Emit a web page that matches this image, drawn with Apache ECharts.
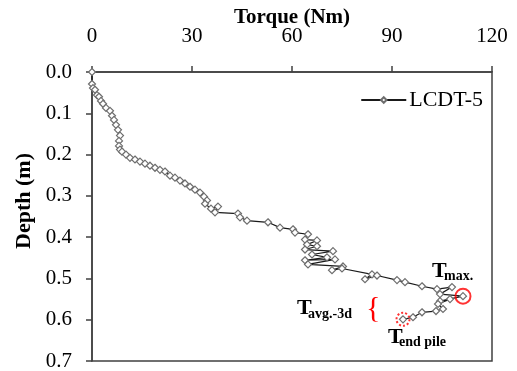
<!DOCTYPE html>
<html>
<head>
<meta charset="utf-8">
<script src="https://cdn.jsdelivr.net/npm/echarts@6/dist/echarts.min.js"></script>
<style>
  html, body { margin: 0; padding: 0; background: #fff; }
  #chart { width: 517px; height: 371px; }
</style>
</head>
<body>
<div id="chart"></div>
<script>
// torque readings (Nm) and matching depths (m), in measuring order
const torque = [
  0, 0, 0.3, 0.9, 1.5, 2.1, 2.7, 3.3, 4.2, 5.4, 6, 6.6, 7.2, 7.8, 8.4, 8.1, 8.1, 8.4, 9, 10.2,
  11.4, 12.9, 14.4, 15.9, 17.4, 18.9, 20.4, 21.9, 23.4, 24.9, 26.4, 27.9, 29.4, 30.9, 32.4, 33.6,
  34.5, 33.9, 35.7, 37.8, 36.9, 43.8, 44.4, 46.5, 52.8, 56.4, 60.3, 60.9, 64.8, 63.9, 67.5, 64.5,
  67.5, 63.9, 72.3, 66, 70.5, 63.9, 72.9, 64.8, 75.3, 72, 75, 84, 81.9, 85.5, 91.5, 93.9, 99,
  103.5, 108, 104.4, 111.3, 104.4, 107.4, 103.8, 105.3, 103.2, 99, 96.3, 93.3
]
const depth = [
  0, 0.029, 0.039, 0.043, 0.056, 0.06, 0.07, 0.077, 0.087, 0.094, 0.106, 0.116, 0.128, 0.14, 0.154,
  0.167, 0.179, 0.188, 0.193, 0.2, 0.208, 0.212, 0.217, 0.222, 0.227, 0.232, 0.237, 0.241, 0.251,
  0.256, 0.263, 0.27, 0.278, 0.285, 0.292, 0.302, 0.311, 0.319, 0.331, 0.326, 0.34, 0.343, 0.352,
  0.36, 0.364, 0.377, 0.381, 0.389, 0.393, 0.406, 0.408, 0.418, 0.422, 0.43, 0.434, 0.442, 0.449,
  0.456, 0.454, 0.466, 0.471, 0.48, 0.476, 0.49, 0.502, 0.493, 0.504, 0.509, 0.519, 0.526, 0.521,
  0.538, 0.543, 0.555, 0.55, 0.562, 0.574, 0.579, 0.582, 0.594, 0.599
]
const torqueTicks = [0, 30, 60, 90, 120]
const depthTicks = [0, 0.1, 0.2, 0.3, 0.4, 0.5, 0.6, 0.7]

// highlighted readings
const maxPoint = [111.3, 0.543]
const endPoint = [93.3, 0.599]

const serif = "Liberation Serif"
const chart = echarts.init(document.getElementById("chart"))

const option = {
  animation: false,
  grid: {
    left: 92,
    right: 25,
    top: 72,
    bottom: 10,
    outerBoundsMode: "none",
    show: true,
    borderColor: "#404040",
    borderWidth: 1.5,
  },
  legend: {
    right: 29,
    top: 84,
    itemWidth: 45,
    itemHeight: 7,
    itemGap: 4,
    data: ["LCDT-5"],
    textStyle: { fontFamily: serif, fontSize: 22, color: "#000", padding: [0, 0, 0, -2] },
  },
  xAxis: {
    type: "value",
    position: "top",
    min: torqueTicks[0],
    max: torqueTicks[torqueTicks.length - 1],
    interval: torqueTicks[1] - torqueTicks[0],
    name: "Torque (Nm)",
    nameLocation: "middle",
    nameGap: 44,
    nameMoveOverlap: false,
    nameTextStyle: { fontFamily: serif, fontSize: 21, fontWeight: "bold", color: "#000" },
    axisLine: { show: true, lineStyle: { color: "#404040", width: 1.5 } },
    axisTick: { show: true, inside: false, length: 6, lineStyle: { color: "#404040", width: 1.5 } },
    axisLabel: { fontFamily: serif, fontSize: 21, color: "#000", margin: 25 },
    splitLine: { show: false },
  },
  yAxis: {
    type: "value",
    inverse: true,
    min: depthTicks[0],
    max: depthTicks[depthTicks.length - 1],
    interval: 0.1,
    axisLine: { show: true, lineStyle: { color: "#404040", width: 1.5 } },
    axisTick: { show: true, inside: false, length: 6, lineStyle: { color: "#404040", width: 1.5 } },
    axisLabel: {
      fontFamily: serif,
      fontSize: 21,
      color: "#000",
      margin: 20,
      formatter: (v) => v.toFixed(1),
    },
    splitLine: { show: false },
  },
  series: [
    {
      name: "LCDT-5",
      type: "line",
      data: torque.map((t, i) => [t, depth[i]]),
      symbol: "diamond",
      symbolSize: 7,
      showAllSymbol: true,
      lineStyle: { color: "#1a1a1a", width: 1.2 },
      itemStyle: { color: "#fff", borderColor: "#6e6e6e", borderWidth: 1.2 },
      z: 3,
    },
    {
      name: "max",
      type: "scatter",
      data: [maxPoint],
      symbol: "circle",
      symbolSize: 15,
      itemStyle: { color: "transparent", borderColor: "#ff0000", borderWidth: 2 },
      z: 4,
      silent: true,
    },
    {
      name: "end",
      type: "scatter",
      data: [endPoint],
      symbol: "circle",
      symbolSize: 13,
      itemStyle: { color: "transparent", borderColor: "#ff0000", borderWidth: 2, borderType: [2, 2] },
      z: 4,
      silent: true,
    },
  ],
}

chart.setOption(option)

// annotations placed relative to the highlighted points
const pMax = chart.convertToPixel({ gridIndex: 0 }, maxPoint)
const pEnd = chart.convertToPixel({ gridIndex: 0 }, endPoint)
const big = { fontFamily: serif, fontSize: 22, fontWeight: "bold", fill: "#000" }
const small = { fontFamily: serif, fontSize: 14, fontWeight: "bold", fill: "#000" }

chart.setOption({
  graphic: [
    {
      type: "text", left: 13, top: 153, rotation: Math.PI / 2,
      style: { text: "Depth (m)", ...big, fontSize: 22 },
    },
    { type: "text", x: pMax[0] - 31, y: pMax[1] - 36, style: { text: "T", ...big } },
    { type: "text", x: pMax[0] - 19, y: pMax[1] - 27, style: { text: "max.", ...small } },
    { type: "text", x: pEnd[0] - 106, y: pEnd[1] - 22, style: { text: "T", ...big } },
    { type: "text", x: pEnd[0] - 95, y: pEnd[1] - 12, style: { text: "avg.-3d", ...small } },
    {
      type: "text", x: pEnd[0] - 37, y: pEnd[1] - 25,
      style: { text: "{", fontFamily: serif, fontSize: 30, fill: "#ff0000" },
    },
    { type: "text", x: pEnd[0] - 15, y: pEnd[1] + 7, style: { text: "T", ...big } },
    { type: "text", x: pEnd[0] - 4, y: pEnd[1] + 16, style: { text: "end pile", ...small } },
  ],
})
</script>
</body>
</html>
